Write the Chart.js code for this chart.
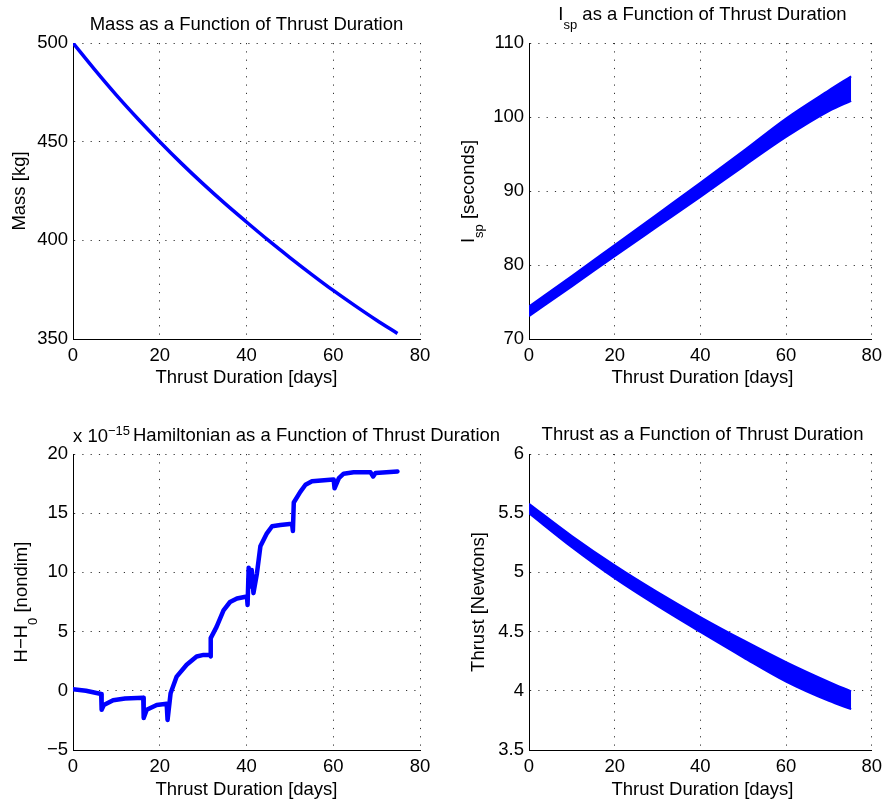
<!DOCTYPE html>
<html>
<head>
<meta charset="utf-8">
<title>Thrust Duration Results</title>
<script src="https://cdn.jsdelivr.net/npm/chart.js@4.4.1/dist/chart.umd.min.js"></script>
<style>
  html, body { margin: 0; padding: 0; background: #ffffff; }
  #fig { position: relative; width: 888px; height: 804px; overflow: hidden; }
  #fig canvas { position: absolute; left: 0; top: 0; }
</style>
</head>
<body>
<div id="fig">
  <canvas id="cMass" width="888" height="804"></canvas>
  <canvas id="cIsp" width="888" height="804"></canvas>
  <canvas id="cHam" width="888" height="804"></canvas>
  <canvas id="cThrust" width="888" height="804"></canvas>
</div>
<script>
// ---------------- data ----------------
const xTicks = [0, 20, 40, 60, 80];

// spacecraft mass [kg] vs thrust duration [days]
const massDays = [0, 5, 10, 15, 20, 25, 30, 35, 40, 45, 50, 55, 60, 65, 70, 74.8];
const massKg   = [500, 486.5, 473.6, 461.5, 450, 439, 428.6, 418.7, 409.3, 400.1, 391.3, 382.8, 374.6, 366.9, 359.5, 352.8];

// specific impulse band [s]: upper / lower envelope of the oscillating trace
const ispDays  = [0, 10, 20, 30, 40, 50, 60, 70, 75.2];
const ispUpper = [74.4, 78.5, 82.7, 86.9, 91.1, 95.4, 99.8, 103.6, 105.5];
const ispLower = [73.1, 77.1, 81.2, 85.2, 89.2, 93.3, 97.3, 100.8, 102.2];

// Hamiltonian drift H - H0 (units of 1e-15, nondimensional)
const hamDays = [0, 3, 6.5, 6.6, 7.1, 9.25, 12, 16.2, 16.3, 17, 19.3, 21.6, 21.8, 22.5, 23.9, 26.2, 28.5, 30.1, 31.6,
                 31.7, 31.8, 33.1, 34.7, 36.2, 37.8, 40.1, 40.25, 40.5, 40.85, 41.2, 41.6, 42.4, 43.2, 44.7, 45.9,
                 47.8, 50.5, 50.7, 50.9, 52.4, 53.6, 55.1, 59.3, 60.1, 60.3, 61.3, 62.4, 64.7, 68.6, 69.2, 69.75, 74.8];
const hamVals = [0.13, 0.0, -0.27, -1.6, -1.2, -0.8, -0.65, -0.58, -2.3, -1.6, -1.2, -1.1, -2.46, -0.2, 1.2, 2.2, 2.9, 3.03, 3.03,
                 2.9, 4.45, 5.4, 6.8, 7.5, 7.8, 7.97, 7.25, 10.4, 8.8, 10.2, 8.25, 9.9, 12.2, 13.3, 13.9,
                 14.0, 14.1, 13.5, 15.9, 16.8, 17.4, 17.7, 17.83, 17.85, 17.1, 17.97, 18.34, 18.45, 18.45, 18.1, 18.4, 18.53];

// thrust band [N]: upper / lower envelope
const thrustDays  = [0, 10, 20, 30, 40, 50, 60, 70, 75.2];
const thrustUpper = [5.58, 5.307, 5.059, 4.833, 4.623, 4.427, 4.242, 4.075, 3.995];
const thrustLower = [5.50, 5.213, 4.951, 4.717, 4.497, 4.283, 4.078, 3.915, 3.845];

// ---------------- styling helpers ----------------
const FONT = '"Liberation Sans", Arial, Helvetica, sans-serif';
const TEXT_SIZE = 18.5;
const SUB_SIZE = 13;
const BLUE = '#0000ff';
const TICK_FONT = { family: FONT, size: 18.5 };
const Y_AXIS_W = 60;
const X_AXIS_H = 30;

function pts(xs, ys) { return xs.map((x, i) => ({ x: x, y: ys[i] })); }
function fmtTick(v) { return v < 0 ? '\u2212' + String(-v) : String(v); }

// draw a sequence of text runs (allows sub/superscripts), optionally rotated
function drawRuns(ctx, runs, x, y, align, rotated) {
  ctx.save();
  ctx.translate(x, y);
  if (rotated) ctx.rotate(-Math.PI / 2);
  ctx.textBaseline = 'alphabetic';
  ctx.textAlign = 'left';
  ctx.fillStyle = '#000';
  let total = 0;
  runs.forEach(r => {
    ctx.font = (r.size || TEXT_SIZE) + 'px ' + FONT;
    r._w = ctx.measureText(r.t).width;
    total += r._w;
  });
  let cx = align === 'center' ? -total / 2 : (align === 'right' ? -total : 0);
  runs.forEach(r => {
    ctx.font = (r.size || TEXT_SIZE) + 'px ' + FONT;
    ctx.fillText(r.t, cx, r.dy || 0);
    cx += r._w;
  });
  ctx.restore();
}

// plugin: axes annotations (titles, axis labels, exponent)
const annotations = {
  id: 'annotations',
  afterDraw(chart, args, opts) {
    (opts.items || []).forEach(it => drawRuns(chart.ctx, it.runs, it.x, it.y, it.align, it.rotated));
  }
};

function makeScales(yMin, yMax, yStep) {
  const grid = { color: 'rgba(0,0,0,0.8)', lineWidth: 1, drawTicks: false };
  const border = { display: true, color: '#000', width: 1, dash: [1.2, 7.1] };
  return {
    x: {
      type: 'linear', min: 0, max: 80,
      afterBuildTicks: s => { s.ticks = xTicks.map(v => ({ value: v })); },
      afterFit: s => { s.height = X_AXIS_H; },
      ticks: { font: TICK_FONT, color: '#000', padding: 6, maxRotation: 0, autoSkip: false, callback: fmtTick },
      grid: grid, border: border
    },
    y: {
      type: 'linear', min: yMin, max: yMax,
      ticks: { stepSize: yStep, font: TICK_FONT, color: '#000', padding: 5, autoSkip: false, callback: fmtTick },
      afterFit: s => { s.width = Y_AXIS_W; },
      grid: grid, border: border
    }
  };
}

function makeChart(id, area, datasets, yMin, yMax, yStep, items) {
  const padding = {
    left: area.left - Y_AXIS_W,
    right: 888 - area.right,
    top: area.top,
    bottom: 804 - area.bottom - X_AXIS_H
  };
  return new Chart(document.getElementById(id), {
    type: 'line',
    data: { datasets: datasets },
    options: {
      responsive: false,
      animation: false,
      devicePixelRatio: 1,
      layout: { padding: padding },
      parsing: false,
      normalized: true,
      elements: { point: { radius: 0 } },
      scales: makeScales(yMin, yMax, yStep),
      plugins: {
        legend: { display: false },
        tooltip: { enabled: false },
        annotations: { items: items }
      }
    },
    plugins: [annotations]
  });
}

function band(xs, upper, lower) {
  const common = { borderColor: BLUE, borderWidth: 2, cubicInterpolationMode: 'monotone' };
  return [
    Object.assign({ data: pts(xs, upper), fill: false }, common),
    Object.assign({ data: pts(xs, lower), fill: '-1', backgroundColor: BLUE }, common)
  ];
}

const LEFT = { left: 73, right: 420 };
const RIGHT = { left: 529, right: 876 };
const TOP = { top: 43, bottom: 339 };
const BOTTOM = { top: 454, bottom: 750 };
const xLabel = 'Thrust Duration [days]';

// ---- Mass ----
makeChart('cMass', Object.assign({}, LEFT, TOP), [{
  data: pts(massDays, massKg), borderColor: BLUE, borderWidth: 3.5, cubicInterpolationMode: 'monotone', fill: false
}], 350, 500, 50, [
  { runs: [{ t: 'Mass as a Function of Thrust Duration' }], x: 246.5, y: 29.5, align: 'center' },
  { runs: [{ t: 'Mass [kg]' }], x: 25, y: 191, align: 'center', rotated: true },
  { runs: [{ t: xLabel }], x: 246.5, y: 383, align: 'center' }
]);

// ---- Isp ----
makeChart('cIsp', Object.assign({}, RIGHT, TOP), band(ispDays, ispUpper, ispLower), 70, 110, 10, [
  { runs: [{ t: 'I' }, { t: 'sp', size: SUB_SIZE, dy: 9.3 }, { t: ' as a Function of Thrust Duration' }], x: 702.5, y: 20, align: 'center' },
  { runs: [{ t: 'I' }, { t: 'sp', size: SUB_SIZE, dy: 9.3 }, { t: ' [seconds]' }], x: 474, y: 191.5, align: 'center', rotated: true },
  { runs: [{ t: xLabel }], x: 702.5, y: 383, align: 'center' }
]);

// ---- Hamiltonian ----
makeChart('cHam', Object.assign({}, LEFT, BOTTOM), [{
  data: pts(hamDays, hamVals), borderColor: BLUE, borderWidth: 4.5, tension: 0, fill: false,
  borderJoinStyle: 'round', borderCapStyle: 'round'
}], -5, 20, 5, [
  { runs: [{ t: 'x 10' }, { t: '\u221215', size: SUB_SIZE, dy: -7 }], x: 73, y: 442, align: 'left' },
  { runs: [{ t: 'Hamiltonian as a Function of Thrust Duration' }], x: 133, y: 441, align: 'left' },
  { runs: [{ t: 'H\u2212H' }, { t: '0', size: SUB_SIZE, dy: 10 }, { t: ' [nondim]' }], x: 26.7, y: 602, align: 'center', rotated: true },
  { runs: [{ t: xLabel }], x: 246.5, y: 795, align: 'center' }
]);

// ---- Thrust ----
makeChart('cThrust', Object.assign({}, RIGHT, BOTTOM), band(thrustDays, thrustUpper, thrustLower), 3.5, 6, 0.5, [
  { runs: [{ t: 'Thrust as a Function of Thrust Duration' }], x: 702.5, y: 440, align: 'center' },
  { runs: [{ t: 'Thrust [Newtons]' }], x: 484, y: 602, align: 'center', rotated: true },
  { runs: [{ t: xLabel }], x: 702.5, y: 795, align: 'center' }
]);
</script>
</body>
</html>
